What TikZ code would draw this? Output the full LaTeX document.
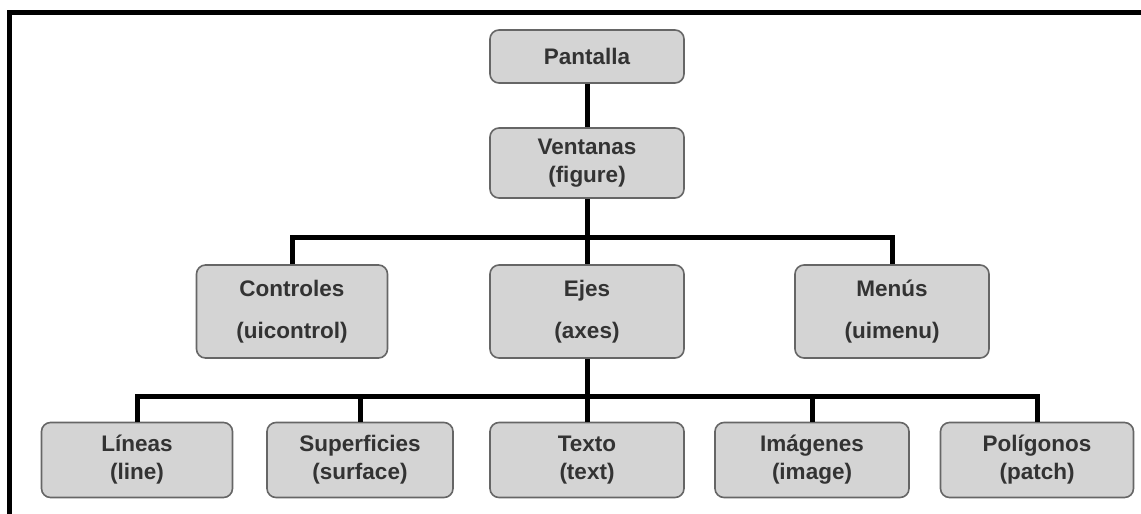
\documentclass[tikz,border=0pt]{standalone}
\usepackage{fontspec}
\setmainfont{Liberation Sans}
\usepackage{tikz}
\usetikzlibrary{positioning}

\begin{document}
\begin{tikzpicture}[x=1pt, y=-1pt,
    BOX/.style = {draw=black!60, line width=1.6pt, fill=gray!34,
                  rounded corners=9pt, align=center, inner sep=0pt,
                  text=black!80,
                  font=\bfseries\fontsize{22.5}{28}\selectfont},
    BW/.style  = {minimum width=194pt},   % wide box
    BN/.style  = {minimum width=191pt},   % narrow box
    LNK/.style = {line width=5pt, black}
                        ]
\useasboundingbox (0,0) rectangle (1141,514);
% frame
\draw[line width=5pt] (9.5,514) -- (9.5,12.5) -- (1141,12.5);
% top levels
\node (pant) [BOX, BW, minimum height=53pt] at (587,56.5)  {Pantalla};
\node (vent) [BOX, BW, minimum height=70pt] at (587,163)   {Ventanas\\(figure)};
% middle row
\node (ctrl) [BOX, BN, minimum height=93pt] at (292,311.5) {Controles\\[14pt](uicontrol)};
\node (ejes) [BOX, BW, minimum height=93pt] at (587,311.5) {Ejes\\[14pt](axes)};
\node (menu) [BOX, BW, minimum height=93pt] at (892,311.5) {Menús\\[14pt](uimenu)};
% bottom row
\node (lin)  [BOX, BN, minimum height=75pt] at (137,460)   {Líneas\\(line)};
\node (sup)  [BOX, minimum width=186pt, minimum height=75pt] at (360,460) {Superficies\\(surface)};
\node (txt)  [BOX, BW, minimum height=75pt] at (587,460)   {Texto\\(text)};
\node (img)  [BOX, BW, minimum height=75pt] at (812,460)   {Imágenes\\(image)};
\node (pol)  [BOX, minimum width=193pt, minimum height=75pt] at (1037,460) {Polígonos\\(patch)};
% buses
\coordinate (bus1) at (587,237);
\coordinate (bus2) at (587,396.5);
% links
\draw[LNK] (pant.south) -- (vent.north);
\draw[LNK] (vent.south) -- (ejes.north);
\draw[LNK] (ctrl.north) |- (bus1) -| (menu.north);
\draw[LNK] (ejes.south) -- (txt.north);
\draw[LNK] (lin.north) |- (bus2) -| (pol.north);
\draw[LNK] (sup.north) -- (sup.north |- bus2);
\draw[LNK] (img.north) -- (img.north |- bus2);
\end{tikzpicture}
\end{document}
